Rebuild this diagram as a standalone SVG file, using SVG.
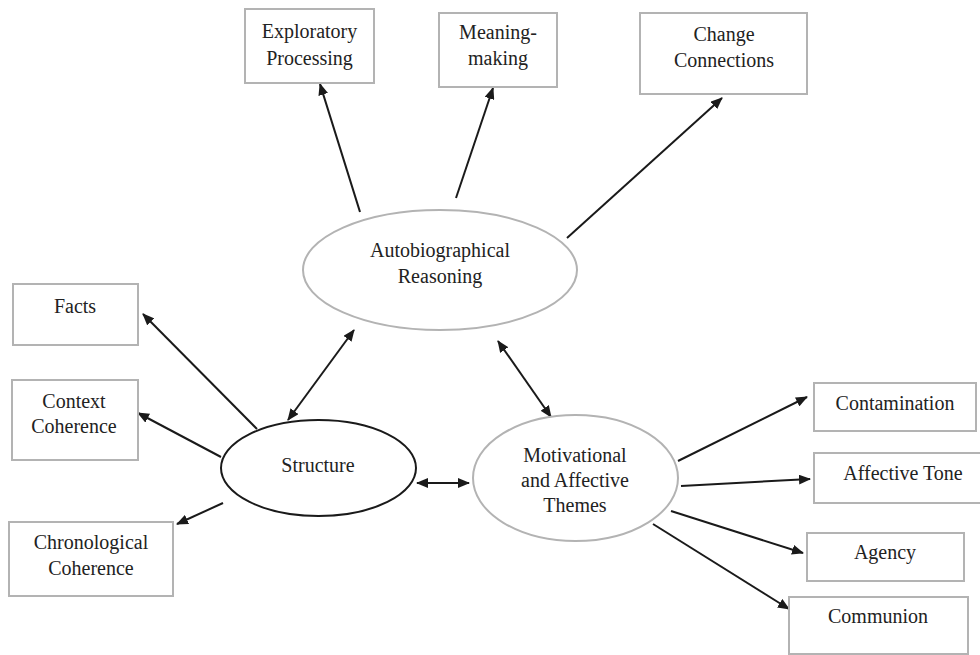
<svg xmlns="http://www.w3.org/2000/svg" width="980" height="655" viewBox="0 0 980 655">
<style>
  .box { fill: #ffffff; stroke: #b3b3b3; stroke-width: 2; }
  .ell { fill: #ffffff; stroke: #b3b3b3; stroke-width: 2; }
  .ellb { fill: #ffffff; stroke: #1a1a1a; stroke-width: 2; }
  text { font-family: 'Liberation Serif', 'Times New Roman', 'DejaVu Serif', serif; font-size: 20px; fill: #222222; text-anchor: middle; }
  .con { stroke: #1a1a1a; stroke-width: 2; fill: none; marker-end: url(#ah); }
  .dbl { marker-start: url(#ah); }
</style>
<defs>
  <marker id="ah" viewBox="0 0 12 10" refX="11" refY="5" markerWidth="12" markerHeight="10" markerUnits="userSpaceOnUse" orient="auto-start-reverse">
    <path d="M0,0 L12,5 L0,10 z" fill="#1a1a1a"/>
  </marker>
</defs>
<rect width="980" height="655" fill="#ffffff"/>

<g id="connectors">
  <line class="con" x1="360" y1="212" x2="320" y2="84"/>
  <line class="con" x1="456" y1="198" x2="493" y2="88"/>
  <line class="con" x1="567" y1="238" x2="722" y2="98"/>
  <line class="con dbl" x1="288" y1="420" x2="354" y2="330"/>
  <line class="con" x1="257" y1="429" x2="143" y2="314"/>
  <line class="con" x1="221" y1="457" x2="138" y2="413"/>
  <line class="con" x1="223" y1="503" x2="177" y2="524"/>
  <line class="con dbl" x1="498" y1="341" x2="551" y2="417"/>
  <line class="con dbl" x1="417" y1="483" x2="469" y2="483"/>
  <line class="con" x1="678" y1="461" x2="807" y2="397"/>
  <line class="con" x1="681" y1="486" x2="810" y2="479"/>
  <line class="con" x1="671" y1="511" x2="803" y2="553"/>
  <line class="con" x1="653" y1="524" x2="789" y2="609"/>
</g>

<g id="exploratory" font-family="Liberation Serif, serif">
  <rect class="box" x="245" y="9" width="129" height="74"/>
  <text x="309.5" y="38">Exploratory</text>
  <text x="309.5" y="65">Processing</text>
</g>
<g id="meaning">
  <rect class="box" x="439" y="13" width="118" height="74"/>
  <text x="498" y="39">Meaning-</text>
  <text x="498" y="65">making</text>
</g>
<g id="change">
  <rect class="box" x="640" y="13" width="167" height="81"/>
  <text x="724" y="41">Change</text>
  <text x="724" y="67">Connections</text>
</g>
<g id="facts">
  <rect class="box" x="13" y="284" width="125" height="61"/>
  <text x="75" y="313">Facts</text>
</g>
<g id="context">
  <rect class="box" x="12" y="380" width="126" height="80"/>
  <text x="74" y="408">Context</text>
  <text x="74" y="433">Coherence</text>
</g>
<g id="chronological">
  <rect class="box" x="9" y="522" width="164" height="74"/>
  <text x="91" y="549">Chronological</text>
  <text x="91" y="575">Coherence</text>
</g>
<g id="contamination">
  <rect class="box" x="814" y="383" width="162" height="48"/>
  <text x="895" y="410">Contamination</text>
</g>
<g id="affective-tone">
  <rect class="box" x="814" y="453" width="172" height="50"/>
  <text x="903" y="480">Affective Tone</text>
</g>
<g id="agency">
  <rect class="box" x="807" y="533" width="157" height="48"/>
  <text x="885" y="559">Agency</text>
</g>
<g id="communion">
  <rect class="box" x="789" y="597" width="179" height="57"/>
  <text x="878" y="623">Communion</text>
</g>
<g id="autobiographical">
  <ellipse class="ell" cx="440" cy="270" rx="137" ry="60"/>
  <text x="440" y="257">Autobiographical</text>
  <text x="440" y="283">Reasoning</text>
</g>
<g id="structure">
  <ellipse class="ellb" cx="318.5" cy="468" rx="97.5" ry="48"/>
  <text x="318" y="472">Structure</text>
</g>
<g id="motivational">
  <ellipse class="ell" cx="575.5" cy="478" rx="102.5" ry="63"/>
  <text x="575" y="462">Motivational</text>
  <text x="575" y="487">and Affective</text>
  <text x="575" y="512">Themes</text>
</g>
</svg>
